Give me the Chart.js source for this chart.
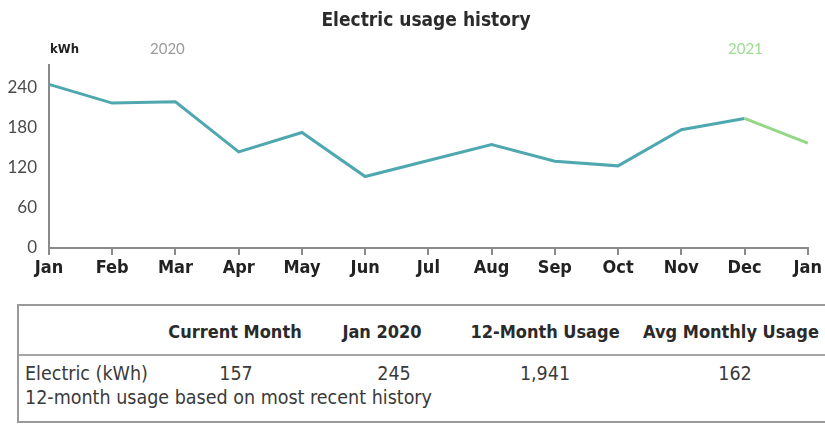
<!DOCTYPE html>
<html>
<head>
<meta charset="utf-8">
<script src="https://cdn.jsdelivr.net/npm/chart.js@4.4.1/dist/chart.umd.min.js"></script>
<style>
  html, body { margin: 0; padding: 0; background: #fff; }
  body { width: 825px; height: 427px; position: relative; overflow: hidden; }
  #chart { position: absolute; left: 0; top: 0; }
  #table { position: absolute; left: 17px; top: 304px; width: 830px; height: 119px;
           border: 2px solid #9a9a9a; box-sizing: border-box; }
  #table .hdr { position: absolute; top: 0; left: 0; right: 0; height: 48px; border-bottom: 2px solid #a5a5a5; }
  .t { position: absolute; white-space: nowrap; transform: translate(-50%, -50%); color: #2a2a2a; }
  .h { font-family: 'Liberation Sans Narrow', 'DejaVu Sans Condensed', sans-serif; font-weight: bold; font-size: 18px; }
  .d { font-family: 'Liberation Sans Narrow', 'DejaVu Sans Condensed', sans-serif; font-size: 19.5px; color: #3a3a3a; }
  .l { transform: translate(0, -50%); }
</style>
</head>
<body>
<canvas id="chart" width="825" height="300"></canvas>
<div id="table"></div>
<script>
// ---- data ----
const months = ['Jan','Feb','Mar','Apr','May','Jun','Jul','Aug','Sep','Oct','Nov','Dec','Jan'];
const usage = [245, 217, 219, 144, 173, 107, 131, 155, 130, 123, 177, 194, 157];
const yTickValues = [0, 60, 120, 180, 240];
const yearLabels = ['2020', '2021'];
const tableHeaders = ['Current Month', 'Jan 2020', '12-Month Usage', 'Avg Monthly Usage'];
const tableRowLabel = 'Electric (kWh)';
const tableValues = ['157', '245', '1,941', '162'];
const tableNote = '12-month usage based on most recent history';

// ---- styles ----
const TEAL = '#4fa8b0';
const GREEN = '#93d884';
const AXIS = '#8a8a8a';
const NARROW = "'Liberation Sans Narrow', 'DejaVu Sans Condensed', sans-serif";

const textPlugin = {
  id: 'texts',
  afterDraw(chart) {
    const c = chart.ctx;
    c.save();
    c.textBaseline = 'middle';
    c.fillStyle = '#2b2b2b';
    c.font = 'bold 19px ' + NARROW;
    c.textAlign = 'center';
    c.fillText('Electric usage history', 426, 21);
    c.textAlign = 'left';
    c.font = 'bold 13px ' + NARROW;
    c.fillStyle = '#222';
    c.fillText('kWh', 50, 50);
    c.font = '15px Lato, sans-serif';
    c.fillStyle = '#9a9a9a';
    c.fillText(yearLabels[0], 150, 49);
    c.fillStyle = '#9ddc91';
    c.fillText(yearLabels[1], 728, 49);
    c.restore();
  }
};

new Chart(document.getElementById('chart'), {
  type: 'line',
  data: {
    labels: months,
    datasets: [{
      data: usage,
      borderColor: TEAL,
      borderWidth: 3,
      pointRadius: 0,
      tension: 0,
      fill: false,
      segment: {
        borderColor: ctx => ctx.p0DataIndex === months.length - 2 ? GREEN : TEAL
      }
    }]
  },
  options: {
    responsive: false,
    animation: false,
    layout: { padding: { top: 65, right: 16, left: 0, bottom: 0 } },
    plugins: { legend: { display: false }, tooltip: { enabled: false }, title: { display: false } },
    scales: {
      x: {
        offset: false,
        afterFit(s) { s.height = 52; },
        grid: { display: true, drawOnChartArea: false, drawTicks: true, tickLength: 7, color: AXIS, lineWidth: 2 },
        border: { display: true, color: AXIS, width: 2 },
        ticks: { color: '#222', padding: 3, maxRotation: 0, autoSkip: false,
                 font: { family: NARROW, weight: 'bold', size: 18 } }
      },
      y: {
        min: 0,
        max: 274,
        afterFit(s) { s.width = 49; },
        afterBuildTicks(s) { s.ticks = yTickValues.map(v => ({ value: v })); },
        grid: { display: false },
        border: { display: true, color: AXIS, width: 2 },
        ticks: { color: '#4a4a4a', padding: 4, font: { family: 'Lato, sans-serif', size: 17 } }
      }
    }
  },
  plugins: [textPlugin]
});

// ---- table ----
const tbl = document.getElementById('table');
const hdr = document.createElement('div');
hdr.className = 'hdr';
tbl.appendChild(hdr);
const hdrCenters = [235, 382, 545, 731];
const valCenters = [236, 394, 545, 735];
function addText(parent, cls, text, x, y) {
  const d = document.createElement('div');
  d.className = 't ' + cls;
  d.textContent = text;
  d.style.left = (x - 19) + 'px';
  d.style.top = (y - 306) + 'px';
  parent.appendChild(d);
}
tableHeaders.forEach((h, i) => addText(tbl, 'h', h, hdrCenters[i], 331));
addText(tbl, 'd l', tableRowLabel, 25, 373);
tableValues.forEach((v, i) => addText(tbl, 'd', v, valCenters[i], 373));
addText(tbl, 'd l', tableNote, 25, 397);
</script>
</body>
</html>
